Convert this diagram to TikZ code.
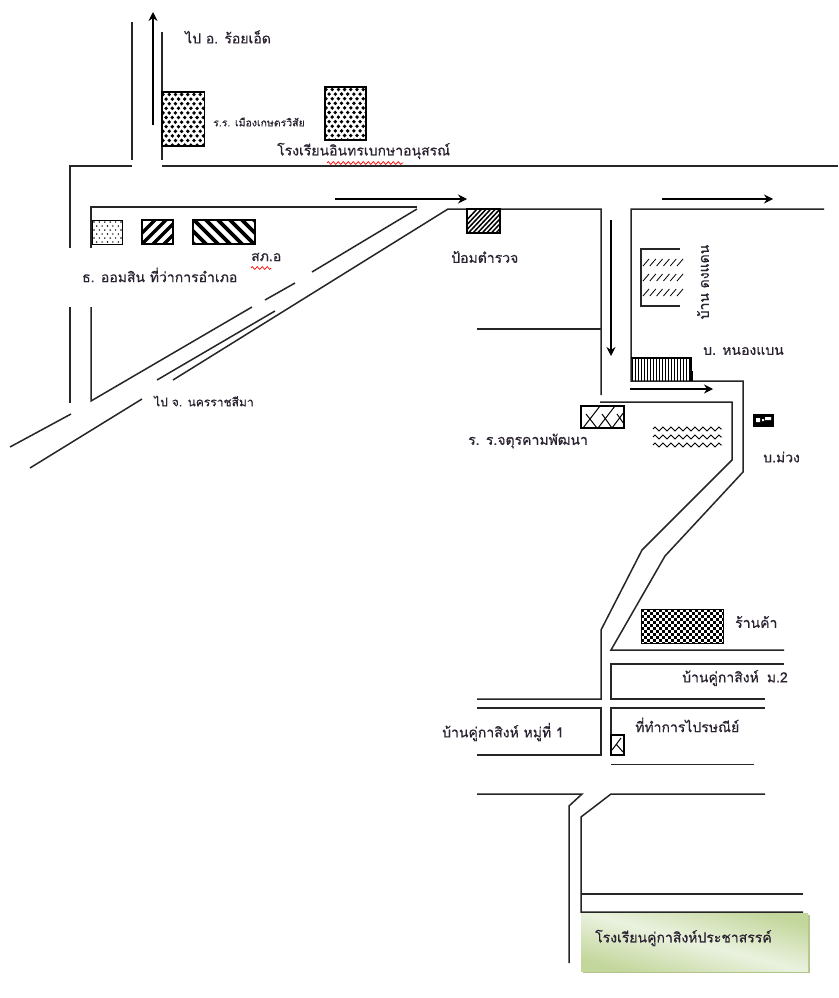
\documentclass[tikz,border=0pt]{standalone}
\usepackage{fontspec}
\usetikzlibrary{arrows.meta,decorations.pathmorphing,shadings}
\newfontfamily\thaifont[Script=Thai,FakeBold=0.5]{Loma}
\definecolor{ink}{HTML}{262626}
\definecolor{lbl}{HTML}{2A2230}
\definecolor{gd}{HTML}{C3D69B}
\definecolor{gl}{HTML}{EAF2DF}
\definecolor{gs}{HTML}{B4C48E}
\tikzset{
  road/.style={draw=ink,line width=1.5pt},
  arr/.style={draw=black,line width=1.3pt,-{Stealth[length=9pt,width=9pt]}},
  lab/.style={anchor=west,inner sep=0pt,text=lbl,font=\thaifont\fontsize{14}{16}\selectfont},
  small/.style={lab,font=\thaifont\fontsize{10.5}{12}\selectfont},
  bld/.style={draw=black,line width=1.4pt},
  squig/.style={draw=red,line width=0.7pt,decorate,decoration={zigzag,amplitude=1.3pt,segment length=5pt}},
  hat/.style={draw=black,line width=1pt}
}
\newcommand{\polka}[4]{%
 \begin{scope}
 \clip (#1,#2) rectangle (#3,#4);
 \foreach \i in {0,...,8}{\foreach \j in {0,...,12}{
   \pgfmathsetmacro{\px}{#1+1+\i*6.2+mod(\j,2)*3.1}
   \pgfmathsetmacro{\py}{#2+2.5+\j*4.6}
   \fill[black] (\px,\py) circle (1.9);
 }}
 \end{scope}
 \draw[bld] (#1,#2) rectangle (#3,#4);}
\begin{document}
\begin{tikzpicture}[x=1pt,y=-1pt]
\useasboundingbox[fill=white] (0,0) rectangle (838,998);
% top roads
\draw[road] (132,22) -- (132,160);
\draw[road] (162,32) -- (162,160);
\draw[arr] (153,125) -- (153,12);
\draw[road] (70,248) -- (70,166) -- (132,166);
\draw[road] (162,166) -- (838,166);
\draw[road] (91,248) -- (91,207) -- (417,207);
\draw[road] (417,209) -- (312,272);
\draw[road] (295,283) -- (265,300);
\draw[road] (91,307) -- (91,401) -- (252,307);
\draw[road] (70,307) -- (70,403);
\draw[road] (71,414) -- (10,447);
\draw[road] (142,399) -- (30,468);
\draw[road] (275,311) -- (157,380);
\draw[road] (173,380) -- (448,209) -- (601,209) -- (601,395);
\draw[arr] (335,199) -- (467,199);
\draw[road] (477,329) -- (601,329);
\draw[arr] (611,220) -- (611,356);
\draw[road] (824,209) -- (631,209) -- (631,381) -- (743,381) -- (743,472) -- (665,556) -- (611,650) -- (784,650);
\draw[arr] (662,199) -- (773,199);
\draw[arr] (630,389) -- (713,389);
\draw[road] (600,402) -- (732,402) -- (732,460) -- (642,550) -- (601,630) -- (601,699) -- (477,699);
\draw[road] (477,708) -- (601,708) -- (601,755) -- (477,755);
\draw[road] (784,664) -- (611,664) -- (611,699) -- (765,699);
\draw[road] (765,708) -- (611,708) -- (611,755);
\draw[road] (611,764.5) -- (754,764.5);
\draw[road] (477,794) -- (582,794) -- (569,806) -- (569,963);
\draw[road] (765,794) -- (611,794) -- (581,817) -- (581,912) -- (803,912);
\draw[road] (581,894) -- (803,894);
% buildings
\polka{162}{92}{204.5}{146}
\polka{325}{87}{366}{140}
% dotted
\begin{scope}
\clip (92,220) rectangle (122,244);
\foreach \i in {0,...,6}{\foreach \j in {0,...,6}{
  \pgfmathsetmacro{\px}{94+\i*5.4+mod(\j,2)*2.7}
  \pgfmathsetmacro{\py}{222+\j*4}
  \fill[black] (\px,\py) circle (0.8);
}}
\end{scope}
\draw[bld,line width=1pt] (92,220) rectangle (122,244);
% wide diagonal
\begin{scope}
\clip (142,220) rectangle (173,244);
\foreach \d in {-1,...,5}{\draw[black,line width=3.4pt] (138+\d*11,248) -- (168+\d*11,218);}
\end{scope}
\draw[bld] (142,220) rectangle (173,244);
\begin{scope}
\clip (193,220) rectangle (255,244);
\foreach \d in {-3,...,6}{\draw[black,line width=3.6pt] (190+\d*12,216) -- (222+\d*12,248);}
\end{scope}
\draw[bld] (193,220) rectangle (255,244);
% police
\begin{scope}
\clip (467,209) rectangle (500,233);
\foreach \d in {-2,...,12}{\draw[black,line width=1.5pt] (460+\d*4.6,237) -- (490+\d*4.6,205);}
\end{scope}
\draw[bld] (467,209) rectangle (500,233);
% bracket hatch
\draw[road,line width=1.2pt] (680,249) -- (641,249) -- (641,306) -- (680,306);
\foreach \yy in {262,277,292}{\foreach \k in {0,...,5}{
  \draw[black,line width=0.8pt] (643+\k*6.8,\yy+4) -- (649+\k*6.8,\yy-3);}}
% vertical hatch
\begin{scope}
\clip (631,358) rectangle (691,381);
\foreach \k in {0,...,20}{\draw[black,line width=1pt] (632+\k*3,358) -- (632+\k*3,381);}
\end{scope}
\draw[bld] (631,358) -- (691,358) -- (691,381);
\draw[bld,line width=1.6pt] (692,371) -- (692,381);
% brick
\draw[bld] (581,406) rectangle (624,428);
\begin{scope}
\clip (581,406) rectangle (624,428);
\draw[hat] (583,428) -- (600,406) (598,428) -- (615,406) (612,428) -- (624,412);
\draw[hat] (586,414) -- (597,428) (602,414) -- (612,428) (617,414) -- (624,424);
\end{scope}
% waves
\foreach \yy in {429,437,445}{
  \draw[black,line width=0.8pt,decorate,decoration={zigzag,amplitude=2pt,segment length=8pt}] (653,\yy) -- (722,\yy);}
% small black
\fill[black] (753,414) rectangle (774,427);
\fill[white] (756,418) rectangle (760,422) (765,417) rectangle (771,420) (762,419) rectangle (764,421);
% shop checker
\begin{scope}
\clip (641,609) rectangle (723,643);
\foreach \i in {0,...,27}{\foreach \j in {0,...,11}{
  \pgfmathparse{int(mod(\i+\j,2))}
  \ifnum\pgfmathresult=0 \fill[black] (641+\i*3,609+\j*3) rectangle +(3,3);\fi
}}
\end{scope}
\draw[bld,line width=1pt] (641,609) rectangle (723,643);
% post box
\draw[bld] (611,735) rectangle (624,755);
\draw[hat] (612,750) -- (621,738) (616,744) -- (623,752);
% green box
\fill[gs] (583,915) rectangle (810,973);
\shade[bottom color=gd,top color=gd,middle color=gl,shading angle=-15] (581,913) rectangle (808,971);
% labels
\node[lab] (l1) at (185,37) {ไป อ. ร้อยเอ็ด};
\node[small] (l2) at (213,122) {ร.ร. เมืองเกษตรวิสัย};
\node[lab] (l3) at (277,151) {โรงเรียนอินทรเบกษาอนุสรณ์};
\node[lab] (l4) at (82,275) {ธ. ออมสิน ที่ว่าการอำเภอ};
\node[lab] (l5) at (251,257) {สภ.อ};
\node[lab] (l6) at (451,257) {ป้อมตำรวจ};
\node[lab,anchor=center,rotate=90] (l7) at (703,282) {บ้าน ดงแดน};
\node[lab] (l8) at (703,351) {บ. หนองแบน};
\node[lab] (l9) at (468,441) {ร. ร.จตุรคามพัฒนา};
\node[lab] (l10) at (763,457) {บ.ม่วง};
\node[small,font=\thaifont\fontsize{12}{14}\selectfont] (l11) at (154,401) {ไป จ. นครราชสีมา};
\node[lab] (l12) at (735,622) {ร้านค้า};
\node[lab] (l13) at (682,678) {บ้านคู่กาสิงห์\hspace{8pt}ม.2};
\node[lab] (l14) at (635,725) {ที่ทำการไปรษณีย์};
\node[lab] (l15) at (442,732) {บ้านคู่กาสิงห์ หมู่ที่ 1};
\node[lab] (l16) at (595,938) {โรงเรียนคู่กาสิงห์ประชาสรรค์};
% squiggles
\draw[squig] (327,163) -- (403,163);
\draw[squig] (251,268) -- (271,268);
\end{tikzpicture}
\end{document}
